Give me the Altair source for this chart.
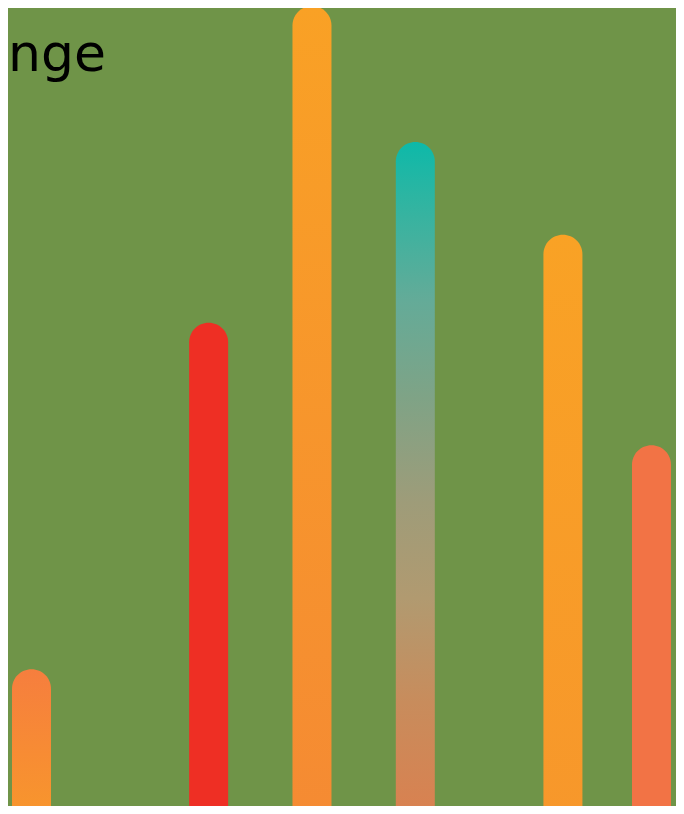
import altair as alt
import pandas as pd

# --- data -------------------------------------------------------------
bar_ids = ["A", "B", "C", "D", "E", "F"]
x_vals = [0, 12, 19, 26, 36, 42]
y_vals = [20.6, 63.9, 103.5, 86.5, 74.9, 48.6]
bar_fills = [
    [(0.0, "#f67e3e"), (1.0, "#f8992a")],
    [(0.0, "#ee2f24")],
    [(0.0, "#f9a125"), (1.0, "#f58a33")],
    [(0.0, "#0db9a9"), (0.08, "#2db5a2"), (0.23, "#64ab98"), (0.37, "#7fa386"),
     (0.52, "#9e9c79"), (0.66, "#b19a70"), (0.81, "#c88c5c"), (0.97, "#d98150"),
     (1.0, "#da8050")],
    [(0.0, "#f9a225"), (1.0, "#f7972b")],
    [(0.0, "#f27345")],
]
title_text = ["nge"]

df = pd.DataFrame({"id": bar_ids, "x": x_vals, "v": y_vals})
tdf = pd.DataFrame({"t": title_text})

xs = alt.Scale(domain=[-1.592, 43.66], nice=False, zero=False, padding=0)
ys = alt.Scale(domain=[3.5, 103.25], nice=False, zero=False, padding=0)

layers = []
for bid, stops in zip(bar_ids, bar_fills):
    if len(stops) == 1:
        fill = stops[0][1]
    else:
        fill = alt.Gradient(
            gradient="linear", x1=0, y1=0, x2=0, y2=1,
            stops=[alt.GradientStop(offset=o, color=c) for o, c in stops],
        )
    layers.append(
        alt.Chart(df)
        .transform_filter(alt.datum.id == bid)
        .mark_bar(fill=fill, size=39, cornerRadiusTopLeft=19.5,
                  cornerRadiusTopRight=19.5, clip=False)
        .encode(
            x=alt.X("x:Q", scale=xs, axis=None),
            y=alt.Y("v:Q", scale=ys, axis=None),
            y2=alt.datum(0),
        )
    )

title = (
    alt.Chart(tdf)
    .mark_text(align="right", baseline="alphabetic", fontSize=52,
               font="DejaVu Sans", fontWeight=400, color="#000000")
    .encode(x=alt.value(98), y=alt.value(63), text="t:N")
)

chart = (
    alt.layer(*layers, title)
    .properties(width=668, height=798, padding=0,
                autosize=alt.AutoSizeParams(type="none"),
                background="#6f9448")
    .configure_view(strokeWidth=0)
)

chart.save("out.html", embed_options={"renderer": "svg", "actions": False})
